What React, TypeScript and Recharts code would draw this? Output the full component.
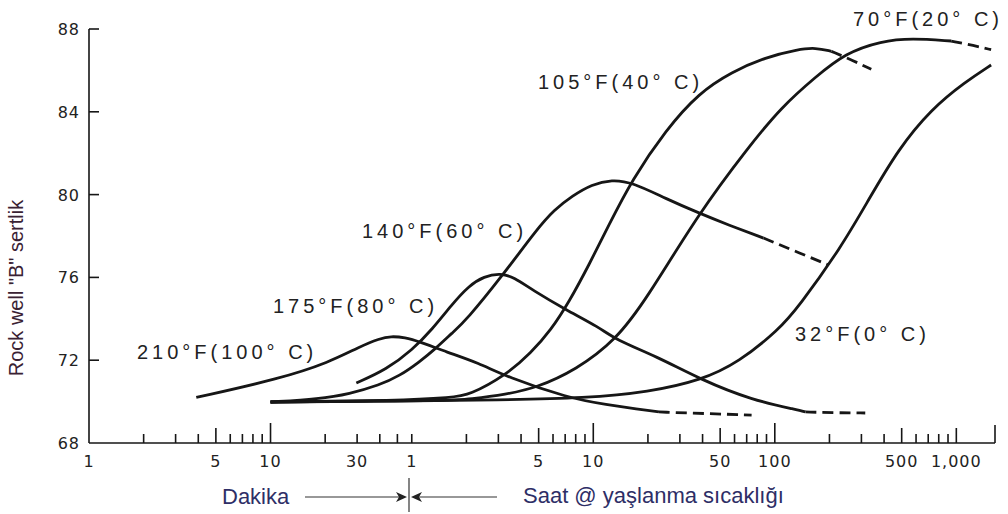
import React from 'react';
import { LineChart, Line, XAxis, YAxis } from 'recharts';

// time in minutes (log axis), hardness in Rockwell B
const hardnessTicks = [68, 72, 76, 80, 84, 88];

const timeLabelTicks = [1, 5, 10, 30, 60, 300, 600, 3000, 6000, 30000, 60000];
const timeLabels = ['1', '5', '10', '30', '1', '5', '10', '50', '100', '500', '1,000'];
const timeMinorTicks = [
  2, 3, 4, 6, 7, 8, 9, 20, 40, 50, 120, 180, 240, 360, 420, 480, 540,
  1200, 1800, 2400, 3600, 4200, 4800, 5400, 12000, 18000, 24000, 36000, 42000, 48000, 54000,
];
const timeEnd = 98000;

// 210°F (100°C)
const c100 = [
  { t: 3.9, hrb: 70.2 }, { t: 11.2, hrb: 71.1 }, { t: 21.1, hrb: 71.9 }, { t: 30.9, hrb: 72.65 },
  { t: 40, hrb: 73.05 }, { t: 46, hrb: 73.16 }, { t: 55, hrb: 73.1 }, { t: 66, hrb: 72.9 },
  { t: 93, hrb: 72.4 }, { t: 141, hrb: 71.86 }, { t: 199, hrb: 71.2 }, { t: 441, hrb: 70.17 },
  { t: 670, hrb: 69.88 }, { t: 1380, hrb: 69.5 },
];
const c100Dash = [{ t: 1380, hrb: 69.5 }, { t: 2500, hrb: 69.42 }, { t: 4470, hrb: 69.35 }];

// 175°F (80°C)
const c80 = [
  { t: 29.7, hrb: 70.9 }, { t: 43.5, hrb: 71.55 }, { t: 60.4, hrb: 72.5 }, { t: 77.9, hrb: 73.5 },
  { t: 100, hrb: 74.7 }, { t: 124, hrb: 75.6 }, { t: 150, hrb: 76.05 }, { t: 185, hrb: 76.2 },
  { t: 220, hrb: 76.0 }, { t: 276, hrb: 75.4 }, { t: 425, hrb: 74.43 }, { t: 645, hrb: 73.6 },
  { t: 800, hrb: 72.98 }, { t: 1330, hrb: 72.2 }, { t: 2375, hrb: 71.04 }, { t: 4470, hrb: 70.08 },
  { t: 8100, hrb: 69.59 }, { t: 8850, hrb: 69.5 },
];
const c80Dash = [{ t: 8850, hrb: 69.5 }, { t: 13000, hrb: 69.46 }, { t: 18900, hrb: 69.45 }];

// 140°F (60°C)
const c60 = [
  { t: 10, hrb: 69.98 }, { t: 18.6, hrb: 70.13 }, { t: 27.2, hrb: 70.37 }, { t: 39.8, hrb: 70.8 },
  { t: 51.3, hrb: 71.24 }, { t: 66, hrb: 71.91 }, { t: 81.9, hrb: 72.59 }, { t: 100, hrb: 73.31 },
  { t: 120, hrb: 73.94 }, { t: 189, hrb: 76.07 }, { t: 294, hrb: 78.34 }, { t: 365, hrb: 79.26 },
  { t: 458, hrb: 79.93 }, { t: 590, hrb: 80.5 }, { t: 760, hrb: 80.72 }, { t: 979, hrb: 80.6 },
  { t: 1510, hrb: 79.8 }, { t: 2290, hrb: 79.11 }, { t: 3340, hrb: 78.53 }, { t: 5200, hrb: 77.9 },
];
const c60Dash = [{ t: 5200, hrb: 77.9 }, { t: 8100, hrb: 77.2 }, { t: 11850, hrb: 76.6 }];

// 105°F (40°C)
const c40 = [
  { t: 10, hrb: 69.98 }, { t: 51, hrb: 70.05 }, { t: 100, hrb: 70.2 }, { t: 124, hrb: 70.3 },
  { t: 199, hrb: 71.29 }, { t: 272, hrb: 72.35 }, { t: 351, hrb: 73.46 }, { t: 441, hrb: 74.81 },
  { t: 568, hrb: 76.6 }, { t: 731, hrb: 78.53 }, { t: 979, hrb: 80.7 }, { t: 1506, hrb: 83.12 },
  { t: 2290, hrb: 84.91 }, { t: 3470, hrb: 85.92 }, { t: 5340, hrb: 86.64 }, { t: 8100, hrb: 87.02 },
  { t: 10050, hrb: 87.1 }, { t: 12300, hrb: 86.92 },
];
const c40Dash = [{ t: 12300, hrb: 86.92 }, { t: 16000, hrb: 86.5 }, { t: 20400, hrb: 86.05 }];

// 70°F (20°C)
const c20 = [
  { t: 10, hrb: 69.98 }, { t: 100, hrb: 70.05 }, { t: 124, hrb: 70.12 }, { t: 199, hrb: 70.35 },
  { t: 290, hrb: 70.66 }, { t: 482, hrb: 71.53 }, { t: 800, hrb: 72.98 }, { t: 1170, hrb: 74.91 },
  { t: 2290, hrb: 79.11 }, { t: 4300, hrb: 82.3 }, { t: 6530, hrb: 84.23 }, { t: 10050, hrb: 85.68 },
  { t: 14690, hrb: 86.84 }, { t: 23180, hrb: 87.42 }, { t: 34000, hrb: 87.56 }, { t: 56230, hrb: 87.42 },
];
const c20Dash = [{ t: 56230, hrb: 87.42 }, { t: 75000, hrb: 87.2 }, { t: 93280, hrb: 87.0 }];

// 32°F (0°C)
const c0 = [
  { t: 10, hrb: 69.98 }, { t: 51, hrb: 70.03 }, { t: 182, hrb: 70.08 }, { t: 547, hrb: 70.17 },
  { t: 1210, hrb: 70.46 }, { t: 2375, hrb: 71.04 }, { t: 3790, hrb: 71.9 }, { t: 6290, hrb: 73.46 },
  { t: 8100, hrb: 74.57 }, { t: 13960, hrb: 77.47 }, { t: 19680, hrb: 79.74 }, { t: 28760, hrb: 82.2 },
  { t: 43650, hrb: 84.13 }, { t: 67130, hrb: 85.44 }, { t: 93280, hrb: 86.26 },
];

const series = [
  { data: c100, dashed: false }, { data: c100Dash, dashed: true },
  { data: c80, dashed: false }, { data: c80Dash, dashed: true },
  { data: c60, dashed: false }, { data: c60Dash, dashed: true },
  { data: c40, dashed: false }, { data: c40Dash, dashed: true },
  { data: c20, dashed: false }, { data: c20Dash, dashed: true },
  { data: c0, dashed: false },
];

const INK = '#161616';
const tickFont = { fontFamily: '"DejaVu Sans", sans-serif', fontSize: 16, fill: '#222', letterSpacing: 1 };
const labelFont = { fontFamily: '"Liberation Sans", Arial, sans-serif', fontSize: 20, fill: '#222', letterSpacing: 4 };
const captionFont = { fontFamily: '"Liberation Sans", Arial, sans-serif', fontSize: 22, fill: '#2e2e66' };

function TimeTick(props: any) {
  const { x, y, payload } = props;
  const v = payload.value;
  const idx = timeLabelTicks.indexOf(v);
  let h = 9;
  if (v === 10 || v === 600 || v === 6000) h = 20;
  else if (v === 5 || v === 300 || v === 3000 || v === 30000 || v === 60000) h = 15;
  else if (v === timeEnd) h = 18;
  return (
    <g>
      {v !== 1 && <line x1={x} x2={x} y1={y} y2={y - h} stroke={INK} strokeWidth={1.6} />}
      {idx >= 0 && (
        <text x={x} y={y + 24} textAnchor="middle" {...tickFont}>
          {timeLabels[idx]}
        </text>
      )}
    </g>
  );
}

function HardnessTick(props: any) {
  const { x, y, payload } = props;
  return (
    <g>
      {payload.value !== 68 && <line x1={x} x2={x + 10} y1={y} y2={y} stroke={INK} strokeWidth={1.6} />}
      <text x={x - 9} y={y + 6} textAnchor="end" {...tickFont}>
        {payload.value}
      </text>
    </g>
  );
}

export default function App() {
  const allTicks = [...timeLabelTicks, ...timeMinorTicks, timeEnd].sort((a, b) => a - b);
  return (
    <div style={{ position: 'absolute', left: 0, top: 0, width: 1008, height: 514, background: '#fff' }}>
      <LineChart width={1008} height={514} margin={{ top: 29, right: 13, bottom: 0, left: 0 }}>
        <XAxis
          dataKey="t"
          type="number"
          scale="log"
          domain={[1, timeEnd]}
          allowDataOverflow
          ticks={allTicks}
          interval={0}
          height={71}
          tickSize={0}
          tickMargin={0}
          tickLine={false}
          axisLine={{ stroke: INK, strokeWidth: 1.6 }}
          tick={<TimeTick />}
        />
        <YAxis
          type="number"
          domain={[68, 88]}
          allowDataOverflow
          ticks={hardnessTicks}
          interval={0}
          width={89}
          tickSize={0}
          tickMargin={0}
          tickLine={false}
          axisLine={{ stroke: INK, strokeWidth: 1.6 }}
          tick={<HardnessTick />}
        />
        {series.map((s, i) => (
          <Line
            key={i}
            data={s.data}
            dataKey="hrb"
            type="basis"
            dot={false}
            activeDot={false}
            stroke={INK}
            strokeWidth={2.8}
            strokeDasharray={s.dashed ? '11 6' : undefined}
            isAnimationActive={false}
          />
        ))}
      </LineChart>
      <svg width={1008} height={514} style={{ position: 'absolute', left: 0, top: 0, pointerEvents: 'none' }}>
        <text x={137} y={359} {...labelFont}>210°F(100° C)</text>
        <text x={273} y={313} {...labelFont}>175°F(80° C)</text>
        <text x={362} y={238} {...labelFont}>140°F(60° C)</text>
        <text x={538} y={89} {...labelFont}>105°F(40° C)</text>
        <text x={853} y={26} {...labelFont}>70°F(20° C)</text>
        <text x={795} y={341} {...labelFont}>32°F(0° C)</text>

        <text
          x={0}
          y={0}
          transform="translate(23 288) rotate(-90)"
          textAnchor="middle"
          fontFamily='"Liberation Sans", Arial, sans-serif'
          fontSize={20}
          fill="#3a2233"
        >
          Rock well "B" sertlik
        </text>

        <text x={222} y={504} {...captionFont}>Dakika</text>
        <text x={523} y={503} {...captionFont}>Saat @ yaşlanma sıcaklığı</text>

        <line x1={305} y1={497} x2={400} y2={497} stroke="#333" strokeWidth={1.2} />
        <polygon points="396,492 407,497 396,502 399,497" fill="#222" />
        <line x1={409} y1={478} x2={409} y2={512} stroke="#333" strokeWidth={1.2} />
        <polygon points="422,492 411,497 422,502 419,497" fill="#222" />
        <line x1={419} y1={497} x2={497} y2={497} stroke="#333" strokeWidth={1.2} />
      </svg>
    </div>
  );
}
